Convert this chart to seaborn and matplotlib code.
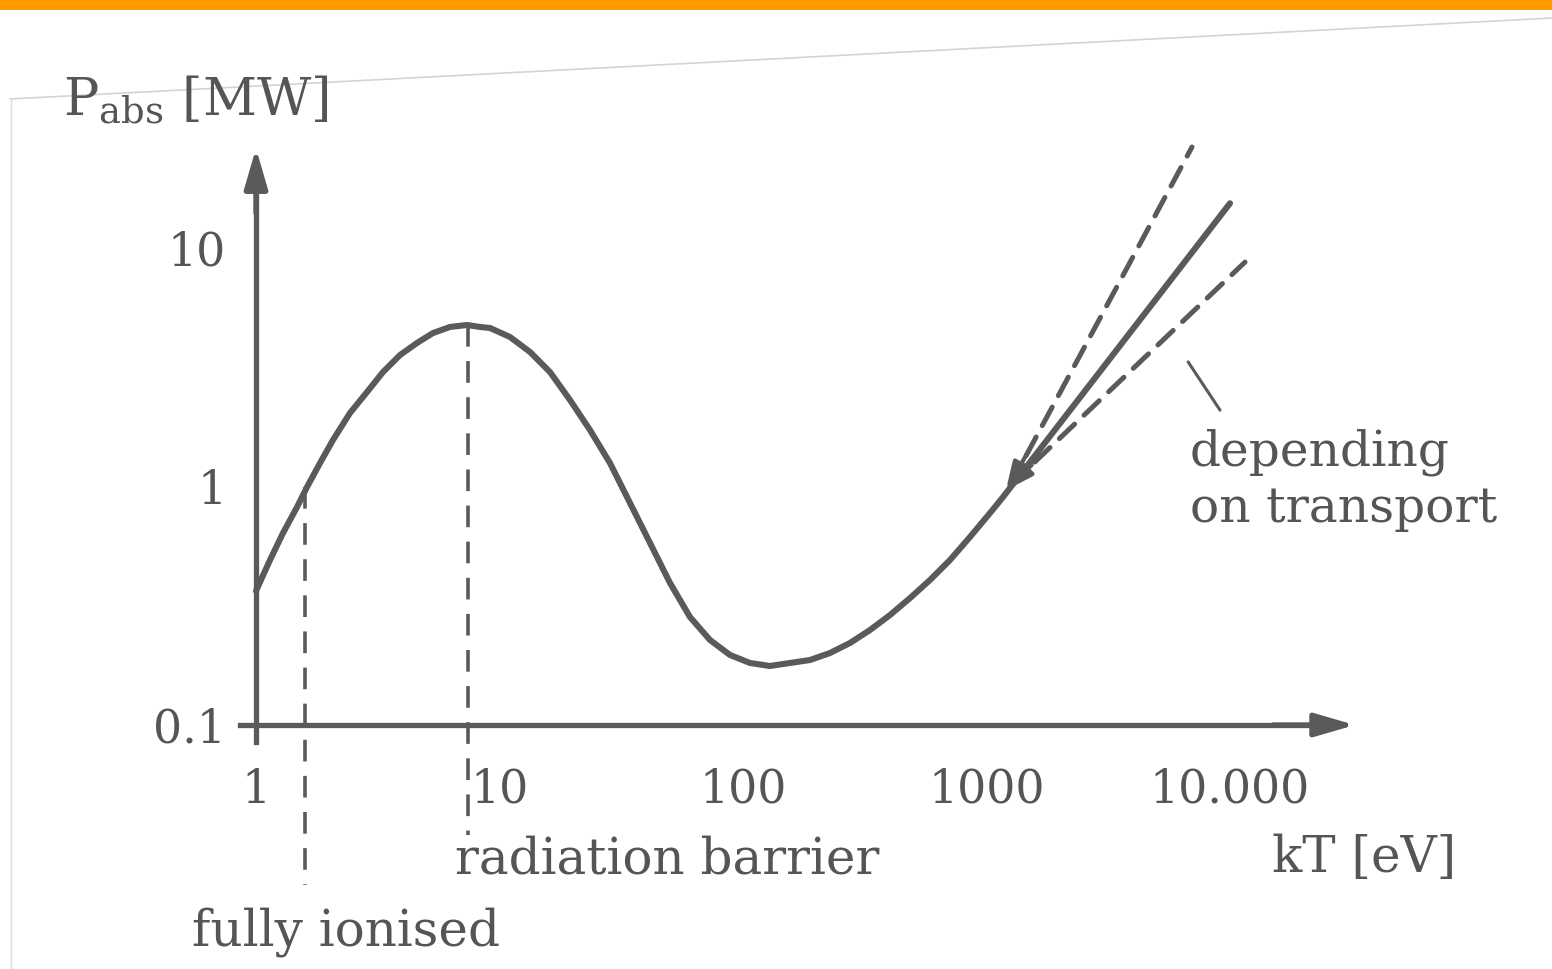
import numpy as np
import pandas as pd
import matplotlib
matplotlib.use("Agg")
import matplotlib.pyplot as plt
from matplotlib.lines import Line2D
from matplotlib.patches import Rectangle
import seaborn as sns

# Absorbed power vs temperature (log-log), main curve
kt_ev = [1.0, 1.142, 1.291, 1.474, 1.620, 1.832, 2.071, 2.432, 2.857, 3.324,
         3.904, 4.584, 5.333, 6.263, 7.356, 8.318, 9.14, 11.04, 13.35, 16.12,
         19.48, 23.53, 28.43, 34.35, 41.50, 50.14, 60.58, 73.19, 88.43, 106.8,
         129.1, 156.0, 188.4, 227.7, 275.1, 332.4, 401.6, 485.2, 586.1, 708.1,
         855.4, 1034, 1169, 10000]
p_abs_mw = [0.365, 0.492, 0.638, 0.820, 0.995, 1.254, 1.567, 2.033, 2.489, 3.020,
            3.558, 3.998, 4.401, 4.665, 4.755, 4.665, 4.62, 4.236, 3.664, 3.020,
            2.305, 1.725, 1.254, 0.853, 0.580, 0.394, 0.2836, 0.2272, 0.1966, 0.182,
            0.1768, 0.182, 0.1873, 0.2004, 0.2208, 0.2502, 0.2892, 0.3406, 0.4055,
            0.4918, 0.6142, 0.7742, 0.903, 15.4]

# Transport-dependent branches above ~1 keV
branch_start = (1250, 1.01)
branch_upper = (6980, 26.5)
branch_lower = (11530, 8.73)

# Marked temperatures
kt_fully_ionised = 1.59
kt_radiation_barrier = 7.42
p_at_barrier = 4.75
p_at_ionised = 1.0

x_ticks = [1, 10, 100, 1000, 10000]
x_tick_labels = ["1", "10", "100", "1000", "10.000"]
y_ticks = [0.1, 1, 10]
y_tick_labels = ["0.1", "1", "10"]

W, H = 1552, 969
INK = "#5a5a5a"
TXT = "#555555"

sns.set_theme(style="white")
plt.rcParams["font.family"] = ["DejaVu Serif", "DejaVu Sans"]
plt.rcParams["mathtext.fontset"] = "dejavuserif"

fig = plt.figure(figsize=(W / 100, H / 100), dpi=100)
fig.patch.set_facecolor("white")

# axes box in pixels: x 150..1420, y 60..960 (from top)
ax = fig.add_axes([150 / W, (H - 960) / H, 1270 / W, 900 / H])
ax.set_facecolor("none")
ax.set_xscale("log")
ax.set_yscale("log")
ax.set_xlim(10 ** -0.4353, 10 ** 4.7803)
ax.set_ylim(10 ** -1.98532, 10 ** 1.78826)

df = pd.DataFrame({"kT": kt_ev, "P": p_abs_mw})
sns.lineplot(data=df, x="kT", y="P", sort=False, estimator=None, ax=ax,
             color=INK, lw=4.4, solid_capstyle="round", solid_joinstyle="round")

# dashed branches with arrowheads at their common origin
for end in (branch_upper, branch_lower):
    ax.plot([branch_start[0], end[0]], [branch_start[1], end[1]], color=INK,
            lw=3.6, dashes=(4.2, 2.6), solid_capstyle="round", dash_capstyle="round")
    lx0, ly0 = np.log10(branch_start)
    lx1, ly1 = np.log10(end)
    f = 0.10
    base = (10 ** (lx0 + f * (lx1 - lx0)), 10 ** (ly0 + f * (ly1 - ly0)))
    ax.annotate("", xy=(branch_start[0] * 0.95, branch_start[1] * 0.94), xytext=base,
                arrowprops=dict(arrowstyle="-|>,head_length=0.9,head_width=0.28",
                                mutation_scale=18, color=INK, lw=3))

# leader line for the transport note
ax.plot([6730, 9100], [3.33, 2.09], color=INK, lw=2.2)

# vertical markers
ax.plot([kt_fully_ionised, kt_fully_ionised], [p_at_ionised, 10 ** -1.671],
        color=INK, lw=2.6, dashes=(6.0, 4.0), clip_on=False)
ax.plot([kt_radiation_barrier, kt_radiation_barrier], [p_at_barrier, 10 ** -1.46],
        color=INK, lw=2.6, dashes=(6.0, 4.0), clip_on=False)

# axes drawn through (1, 0.1) with arrowheads
for side in ("top", "right"):
    ax.spines[side].set_visible(False)
ax.spines["left"].set_position(("data", 1))
ax.spines["bottom"].set_position(("data", 0.1))
ax.spines["left"].set_bounds(0.0849, 18.0)
ax.spines["bottom"].set_bounds(0.86, 22000)
for side in ("left", "bottom"):
    ax.spines[side].set_color(INK)
    ax.spines[side].set_linewidth(3.8)
ax.annotate("", xy=(1, 26.2), xytext=(1, 14.0),
            arrowprops=dict(arrowstyle="-|>,head_length=1.1,head_width=0.32",
                            mutation_scale=22, color=INK, lw=3.8, shrinkA=0, shrinkB=0))
ax.annotate("", xy=(32600, 0.1), xytext=(15000, 0.1),
            arrowprops=dict(arrowstyle="-|>,head_length=1.1,head_width=0.32",
                            mutation_scale=22, color=INK, lw=3.8, shrinkA=0, shrinkB=0))

ax.set_xticks(x_ticks)
ax.set_xticklabels(x_tick_labels)
ax.set_yticks(y_ticks)
ax.set_yticklabels(y_tick_labels)
ax.minorticks_off()
ax.tick_params(axis="both", which="major", direction="out", length=11.5, width=2.6,
               color=INK, labelcolor=TXT, labelsize=33)
ax.tick_params(axis="x", pad=19)
ax.tick_params(axis="y", pad=10)
ax.set_xlabel("")
ax.set_ylabel("")
ax.grid(False)


def fx(px):
    return px / W


def fy(py):
    return 1 - py / H


fig.text(fx(63), fy(100), r"P$_{\rm abs}$ [MW]", fontsize=38, color=TXT,
         ha="left", va="center")
fig.text(fx(1272), fy(858), "kT [eV]", fontsize=36, color=TXT, ha="left", va="center")
fig.text(fx(455), fy(860), "radiation barrier", fontsize=36, color=TXT,
         ha="left", va="center")
fig.text(fx(192), fy(932), "fully ionised", fontsize=36, color=TXT,
         ha="left", va="center")
fig.text(fx(1190), fy(452), "depending", fontsize=35, color=TXT, ha="left", va="center")
fig.text(fx(1190), fy(508), "on transport", fontsize=35, color=TXT, ha="left", va="center")

# page header bar and faint scanned page edges
fig.patches.append(Rectangle((0, fy(10)), 1, 10 / H, transform=fig.transFigure,
                             facecolor="#ff9a00", edgecolor="none", zorder=5))
fig.add_artist(Line2D([fx(10), fx(1552)], [fy(99), fy(18)], color="#d4d4d4", lw=1.2))
fig.add_artist(Line2D([fx(11), fx(11)], [fy(99), fy(969)], color="#dcdcdc", lw=1.0))

fig.savefig("out.png", dpi=100, facecolor="white")
